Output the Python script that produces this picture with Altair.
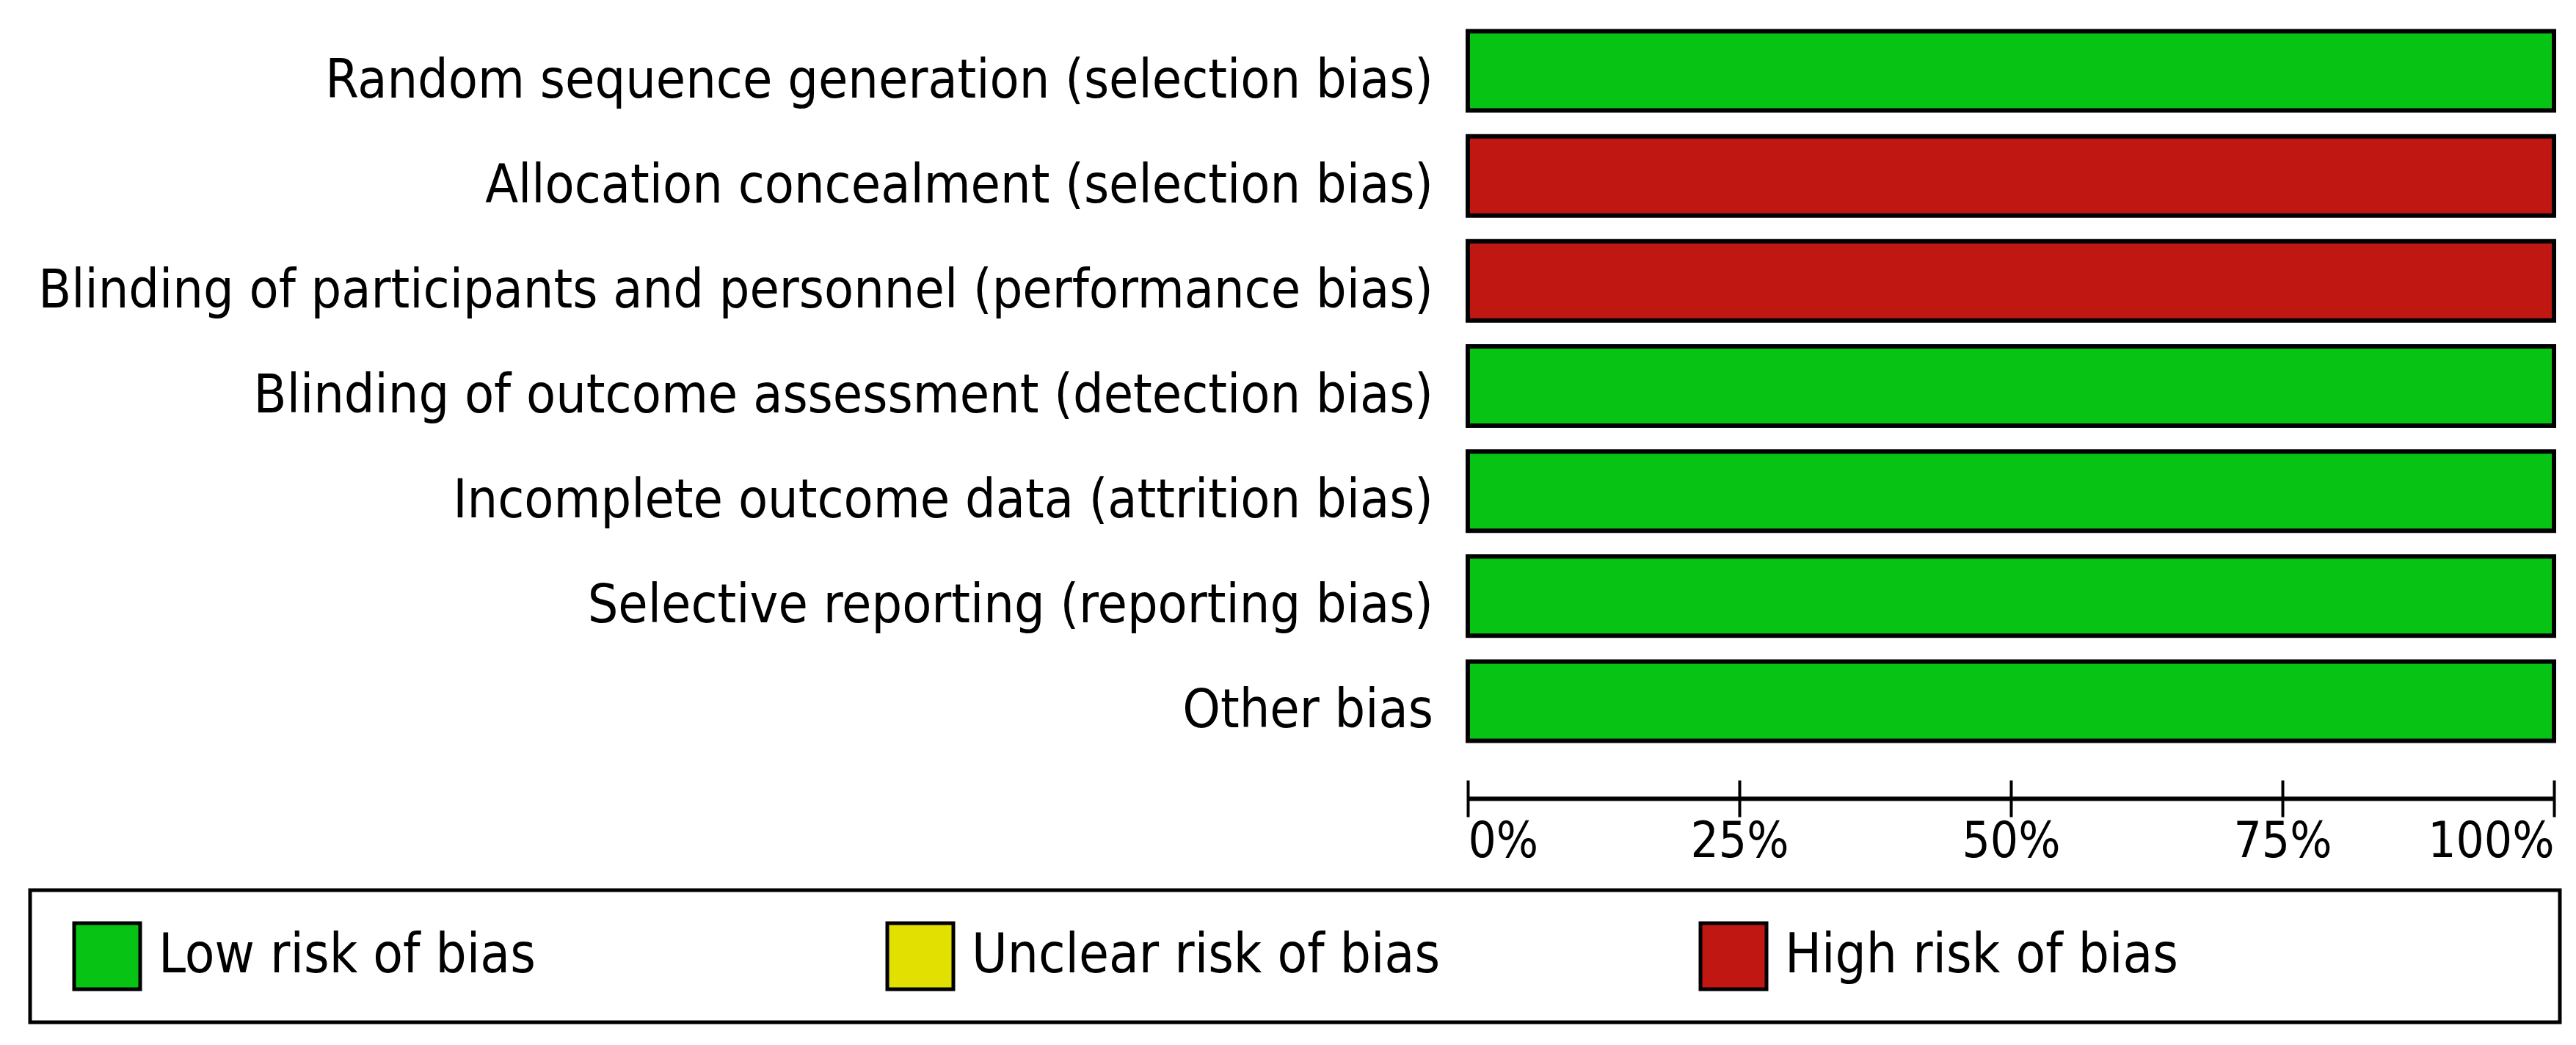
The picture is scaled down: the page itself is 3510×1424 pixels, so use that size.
import altair as alt
import pandas as pd

# ---- data ----
domains = [
    "Random sequence generation (selection bias)",
    "Allocation concealment (selection bias)",
    "Blinding of participants and personnel (performance bias)",
    "Blinding of outcome assessment (detection bias)",
    "Incomplete outcome data (attrition bias)",
    "Selective reporting (reporting bias)",
    "Other bias",
]
low_pct = [100, 0, 0, 100, 100, 100, 100]
unclear_pct = [0, 0, 0, 0, 0, 0, 0]
high_pct = [0, 100, 100, 0, 0, 0, 0]
risk_levels = ["Low risk of bias", "Unclear risk of bias", "High risk of bias"]
risk_colors = ["#07C313", "#E1E000", "#C11712"]
tick_values = [0, 25, 50, 75, 100]

rows = []
for i, d in enumerate(domains):
    for j, (lvl, vals) in enumerate(zip(risk_levels, [low_pct, unclear_pct, high_pct])):
        if vals[i] > 0:
            rows.append({"domain": d, "risk": lvl, "pct": vals[i], "order": j})
df = pd.DataFrame(rows)
lab_df = pd.DataFrame({"domain": domains})

FONT = "DejaVu Sans Condensed"
FS = 73
FS_TICK = 67
FS_LEG = 74
PANEL_W = 3447
color_scale = alt.Scale(domain=risk_levels, range=risk_colors)
x_scale = alt.Scale(domain=[0, 100], range=[1959, 3439], nice=False, zero=True)
y_scale = alt.Scale(paddingInner=0.2457, paddingOuter=0.1228)

y_enc = alt.Y("domain:N", sort=domains, title=None, scale=y_scale, axis=None)

base = alt.Chart(df).encode(
    y=y_enc,
    color=alt.Color("risk:N", scale=color_scale, legend=None),
    order=alt.Order("order:Q"),
)

bars = base.mark_bar(stroke="black", strokeWidth=6, opacity=1).encode(
    x=alt.X(
        "pct:Q", stack="zero", scale=x_scale, title=None,
        axis=alt.Axis(orient="bottom", values=tick_values,
                      labelExpr="datum.value + '%'", offset=36, tickSize=50,
                      tickWidth=4, tickColor="black", domain=False, grid=False,
                      labelFlush=True, labelOverlap=False, labelPadding=1,
                      labelLimit=1000,
                      labelFont=FONT, labelFontSize=FS_TICK, labelColor="black"),
    )
)

line_axis = base.mark_bar(opacity=0, strokeOpacity=0).encode(
    x=alt.X(
        "pct:Q", stack="zero", scale=x_scale, title=None,
        axis=alt.Axis(orient="bottom", offset=61, ticks=False, labels=False,
                      domain=True, domainColor="black", domainWidth=6, grid=False),
    )
)

labels = alt.Chart(lab_df).mark_text(
    align="right", baseline="middle", dy=14, font=FONT, fontSize=FS, color="black"
).encode(y=y_enc, x=alt.value(1912), text="domain:N")

top = alt.layer(bars, line_axis, labels).resolve_axis(x="independent").properties(
    width=PANEL_W, height=1002
)

# ---- legend panel ----
leg_df = pd.DataFrame({"risk": risk_levels})
xs = alt.X("risk:N", sort=risk_levels, axis=None, title=None,
           scale=alt.Scale(type="point", padding=0.5555, align=0.0853))
sq = alt.Chart(leg_df).mark_square(size=8100, stroke="black", strokeWidth=5,
                                   opacity=1).encode(
    x=xs, color=alt.Color("risk:N", scale=color_scale, legend=None)
)
txt = alt.Chart(leg_df).mark_text(align="left", baseline="middle", dx=70,
                                  font=FONT, fontSize=FS_LEG, color="black").encode(
    x=xs, text="risk:N"
)
legend_panel = alt.layer(sq, txt).properties(
    width=PANEL_W, height=180,
    view=alt.ViewBackground(stroke="black", strokeWidth=5),
)

chart = alt.vconcat(top, legend_panel, spacing=29).properties(
    padding={"left": 30, "top": 16, "right": 10, "bottom": 10},
    background="white",
).configure_view(stroke="transparent")

chart.save("out.html", embed_options={"renderer": "svg", "actions": False})
